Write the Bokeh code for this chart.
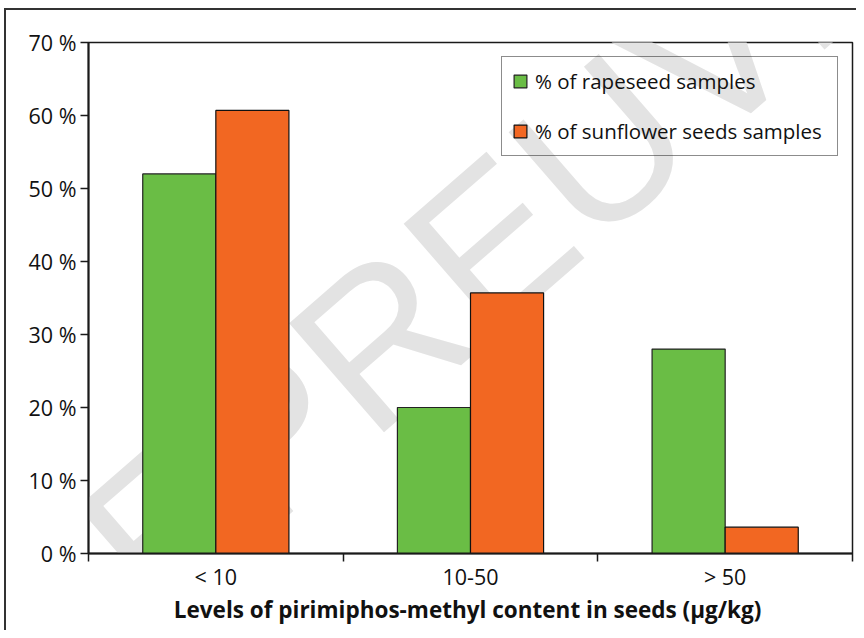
import math
from bokeh.plotting import figure
from bokeh.models import (ColumnDataSource, FixedTicker, PrintfTickFormatter,
                          Range1d, Label, Legend)
from bokeh.embed import file_html
from bokeh.resources import INLINE

# ---- data ----
categories = ["< 10", "10-50", "> 50"]
rapeseed = [52, 20, 28]
sunflower = [60.7, 35.7, 3.6]
y_ticks = [0, 10, 20, 30, 40, 50, 60, 70]
series_names = ["% of rapeseed samples", "% of sunflower seeds samples"]
x_title = "Levels of  pirimiphos-methyl content in seeds (\u00b5g/kg)"
watermark = "EPREUVE"

GREEN = "#6ABD45"
ORANGE = "#F26722"
FONT = "Open Sans"

bar_w = 0.287
idx = list(range(len(categories)))
src = ColumnDataSource(dict(
    xg=[i + 0.5 - bar_w / 2 for i in idx],
    xo=[i + 0.5 + bar_w / 2 for i in idx],
    rapeseed=rapeseed,
    sunflower=sunflower,
))

p = figure(width=856, height=630, output_backend="svg", toolbar_location=None,
           x_range=Range1d(0, len(categories)), y_range=Range1d(0, y_ticks[-1]),
           min_border_left=88, min_border_right=4, min_border_top=42,
           min_border_bottom=77)
p.styles = {"box-shadow": "inset 4px 8px 0 0 #ffffff, inset 6px 10px 0 0 #333333"}
p.border_fill_alpha = 0
p.background_fill_color = "white"
p.outline_line_color = "#1a1a1a"
p.outline_line_width = 1.5
p.xgrid.visible = False
p.ygrid.visible = False

# watermark
wm = Label(x=1.58, y=42.5, text=watermark, angle=math.radians(41),
           text_align="center", text_baseline="middle",
           text_font="Liberation Sans", text_font_size="210px",
           text_color="#e3e3e3", level="underlay")
p.add_layout(wm)

rg = p.vbar(x="xg", top="rapeseed", width=bar_w, source=src,
            fill_color=GREEN, line_color="#222222", line_width=1.2)
ro = p.vbar(x="xo", top="sunflower", width=bar_w, source=src,
            fill_color=ORANGE, line_color="#111111", line_width=1.2)

# x axis
xa = p.xaxis[0]
xa.ticker = FixedTicker(ticks=[i + 0.5 for i in idx],
                        minor_ticks=[float(i) for i in range(len(categories) + 1)])
xa.major_label_overrides = {i + 0.5: c for i, c in zip(idx, categories)}
xa.major_tick_out = 0
xa.major_tick_in = 0
xa.minor_tick_out = 8
xa.minor_tick_in = 0
xa.minor_tick_line_color = "#1a1a1a"
xa.minor_tick_line_width = 1.5
xa.axis_line_color = "#1a1a1a"
xa.axis_line_width = 2
xa.major_label_text_font = FONT
xa.major_label_text_font_size = "21.5px"
xa.major_label_text_color = "#111111"
xa.major_label_standoff = 0
xa.axis_label = x_title
xa.axis_label_text_font = FONT
xa.axis_label_text_font_size = "22.5px"
xa.axis_label_text_font_style = "bold"
xa.axis_label_text_color = "#111111"
xa.axis_label_standoff = 0

# y axis
ya = p.yaxis[0]
ya.ticker = FixedTicker(ticks=y_ticks, minor_ticks=[])
ya.formatter = PrintfTickFormatter(format="%d %%")
ya.major_tick_out = 8
ya.major_tick_in = 0
ya.major_tick_line_color = "#1a1a1a"
ya.major_tick_line_width = 1.5
ya.axis_line_color = "#1a1a1a"
ya.axis_line_width = 2
ya.major_label_text_font = FONT
ya.major_label_text_font_size = "21.5px"
ya.major_label_text_color = "#111111"
ya.major_label_standoff = 4

legend = Legend(items=[(series_names[0], [rg]), (series_names[1], [ro])],
                location="top_right", margin=14, padding=10, spacing=22,
                glyph_width=16, glyph_height=16, label_height=28,
                label_width=292, label_standoff=7, label_text_font=FONT,
                label_text_font_size="20.5px", label_text_color="#111111",
                border_line_color="#1a1a1a", border_line_width=1.2,
                background_fill_alpha=0)
p.add_layout(legend)

open("out.html", "w").write(file_html(p, INLINE))
